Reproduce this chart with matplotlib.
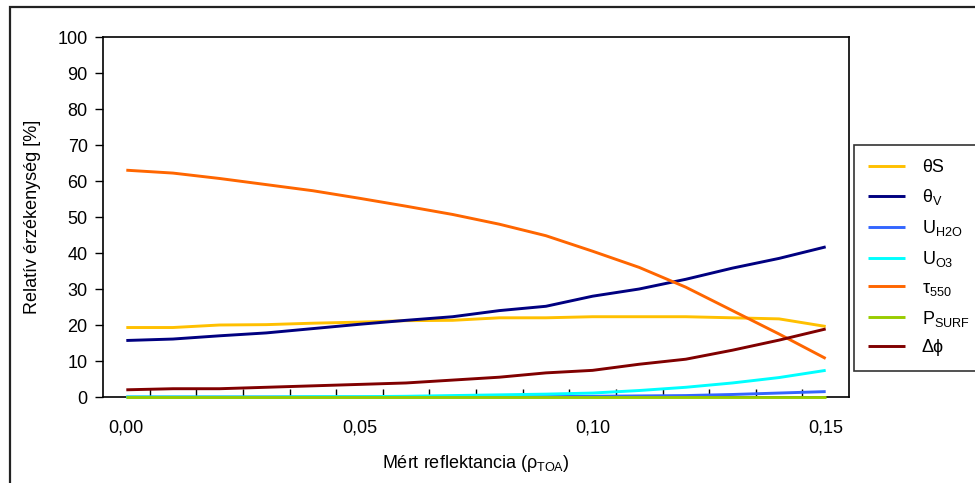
import matplotlib
matplotlib.use("Agg")
import matplotlib.pyplot as plt
from matplotlib.patches import Rectangle

# reflektancia értékek (kategóriák)
rho_toa = [0.00, 0.01, 0.02, 0.03, 0.04, 0.05, 0.06, 0.07,
           0.08, 0.09, 0.10, 0.11, 0.12, 0.13, 0.14, 0.15]

theta_s = [19.3, 19.3, 20.0, 20.1, 20.5, 20.8, 21.2, 21.3,
           22.0, 22.0, 22.3, 22.3, 22.3, 22.0, 21.7, 19.6]
theta_v = [15.7, 16.1, 17.0, 17.8, 19.0, 20.2, 21.3, 22.3,
           24.0, 25.2, 28.0, 30.0, 32.7, 35.8, 38.5, 41.7]
u_h2o = [0.0, 0.0, 0.0, 0.0, 0.0, 0.0, 0.0, 0.1,
         0.1, 0.1, 0.2, 0.3, 0.4, 0.7, 1.1, 1.5]
u_o3 = [0.0, 0.0, 0.0, 0.0, 0.1, 0.1, 0.2, 0.4,
        0.6, 0.8, 1.1, 1.8, 2.7, 3.9, 5.4, 7.4]
tau_550 = [63.0, 62.2, 60.7, 59.0, 57.3, 55.2, 53.0, 50.7,
           48.0, 44.8, 40.5, 36.0, 30.5, 24.0, 17.5, 10.7]
p_surf = [0.0] * 16
d_phi = [2.0, 2.3, 2.3, 2.7, 3.1, 3.5, 3.9, 4.7,
         5.5, 6.7, 7.4, 9.1, 10.5, 13.0, 15.8, 18.9]

series = [
    (theta_s, "θS", "#FFC000"),
    (theta_v, "θ$_\\mathregular{V}$", "#000080"),
    (u_h2o, "U$_\\mathregular{H2O}$", "#3366FF"),
    (u_o3, "U$_\\mathregular{O3}$", "#00FFFF"),
    (tau_550, "τ$_\\mathregular{550}$", "#FF6600"),
    (p_surf, "P$_\\mathregular{SURF}$", "#99CC00"),
    (d_phi, "Δϕ", "#800000"),
]

plt.rcParams['font.family'] = ['Liberation Sans', 'DejaVu Sans']
plt.rcParams['mathtext.fontset'] = 'custom'
plt.rcParams['mathtext.rm'] = 'Liberation Sans'

fig = plt.figure(figsize=(9.75, 4.83), dpi=100)
ax = fig.add_axes([103/975, 1-397/483, (849-103)/975, (397-37)/483])

handles = []
for vals, lab, col in series:
    # a nulla körüli görbék a tengely fölött is látszanak
    h, = ax.plot(rho_toa, vals, color=col, lw=2.1, label=lab,
                 solid_capstyle='butt', clip_on=False, zorder=3)
    handles.append(h)

ax.set_xlim(-0.005, 0.155)
ax.set_ylim(0, 100)
ax.set_yticks(range(0, 101, 10))
ax.tick_params(axis='y', direction='out', length=6, labelsize=13, width=1, pad=5)
ax.set_xticks([0.00, 0.05, 0.10, 0.15])
ax.set_xticklabels(['0,00', '0,05', '0,10', '0,15'])
ax.set_xticks([0.005 + 0.01*i for i in range(15)], minor=True)
ax.tick_params(axis='x', which='major', length=0, pad=16, labelsize=13)
ax.tick_params(axis='x', which='minor', direction='in', length=6, width=1)
for s in ax.spines.values():
    s.set_linewidth(1.2)
    s.set_zorder(2)

ax.set_ylabel('Relatív érzékenység [%]', fontsize=13, labelpad=12)
ax.set_xlabel('Mért reflektancia (ρ$_\\mathregular{TOA}$)', fontsize=13, labelpad=12)

leg = fig.legend(handles=handles, loc='upper left',
                 bbox_to_anchor=(854/975, 1-145/483, 0.2, 0.0),
                 mode='expand', borderaxespad=0, fontsize=13,
                 handlelength=2.0, handletextpad=0.95, labelspacing=0.6,
                 borderpad=0.8, fancybox=False, frameon=True)
leg.get_frame().set_edgecolor('black')
leg.get_frame().set_linewidth(1.2)

# külső keret
fig.patches.append(Rectangle((10/975, -0.1), 1.2, 1.1 - 7/483, transform=fig.transFigure,
                             fill=False, edgecolor='#222222', lw=1.6))

fig.savefig('out.png', dpi=100)
